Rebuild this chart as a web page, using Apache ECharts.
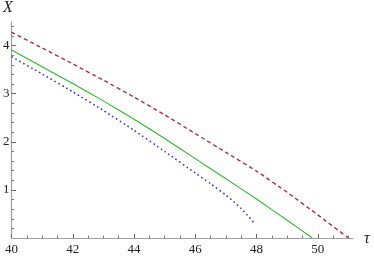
<!DOCTYPE html>
<html><head><meta charset="utf-8">
<script src="https://cdn.jsdelivr.net/npm/echarts@6/dist/echarts.min.js"></script>
<style>html,body{margin:0;padding:0;background:#fff}#c{width:374px;height:256px}</style>
</head><body><div id="c"></div>
<script>
// data
const redTau  = [40, 41, 42, 43, 44, 45, 46, 47, 48, 49, 50, 51];
const redX    = [4.28, 3.95, 3.62, 3.28, 2.93, 2.56, 2.17, 1.78, 1.39, 0.95, 0.48, 0.0];
const greenTau = [40, 41, 42, 43, 44, 45, 46, 47, 48, 49, 49.82];
const greenX   = [3.91, 3.56, 3.21, 2.85, 2.47, 2.07, 1.65, 1.23, 0.81, 0.37, 0.0];
const blueTau = [40, 41, 42, 43, 44, 45, 46, 46.5, 47, 47.25, 47.5, 47.75, 47.94];
const blueX   = [3.77, 3.41, 3.04, 2.65, 2.24, 1.80, 1.35, 1.13, 0.89, 0.76, 0.61, 0.44, 0.29];
const xMajor = [40, 42, 44, 46, 48, 50];
const xMinor = [40.5, 41, 41.5, 42.5, 43, 43.5, 44.5, 45, 45.5, 46.5, 47, 47.5, 48.5, 49, 49.5, 50.5, 51];
const yMajor = [1, 2, 3, 4];
const yMinor = [0.2, 0.4, 0.6, 0.8, 1.2, 1.4, 1.6, 1.8, 2.2, 2.4, 2.6, 2.8, 3.2, 3.4, 3.6, 3.8, 4.2, 4.4];

const zip = (a, b) => a.map((v, i) => [v, b[i]]);
const axisCol = '#a0a0a0';
const labelStyle = { color: '#222', fontFamily: 'Liberation Serif', fontSize: 13 };

const chart = echarts.init(document.getElementById('c'), null, { renderer: 'canvas' });
chart.setOption({
  animation: false,
  grid: { left: 9.5, right: 21, top: 22, bottom: 17, containLabel: false },
  xAxis: [
    { type: 'value', min: 40, max: 51.15, position: 'bottom',
      axisLine: { show: true, lineStyle: { color: axisCol, width: 1.2 } },
      axisTick: { show: true, inside: true, length: 4, customValues: xMajor, lineStyle: { color: '#666' } },
      axisLabel: { show: true, customValues: xMajor, margin: 5, ...labelStyle },
      splitLine: { show: false } },
    { type: 'value', min: 40, max: 51.15, position: 'bottom',
      axisLine: { show: false },
      axisTick: { show: true, inside: true, length: 2.5, customValues: xMinor, lineStyle: { color: '#777' } },
      axisLabel: { show: false }, splitLine: { show: false } }
  ],
  yAxis: [
    { type: 'value', min: 0, max: 4.49, position: 'left',
      axisLine: { show: true, lineStyle: { color: axisCol, width: 1.2 } },
      axisTick: { show: true, inside: true, length: 4.5, customValues: yMajor, lineStyle: { color: '#666' } },
      axisLabel: { show: true, customValues: yMajor, margin: 2, ...labelStyle },
      splitLine: { show: false } },
    { type: 'value', min: 0, max: 4.49, position: 'left',
      axisLine: { show: false },
      axisTick: { show: true, inside: true, length: 2.5, customValues: yMinor, lineStyle: { color: '#777' } },
      axisLabel: { show: false }, splitLine: { show: false } }
  ],
  graphic: [
    { type: 'text', left: 3, top: 0, style: { text: 'X', font: 'italic 16px "Liberation Serif"', fill: '#222' } },
    { type: 'text', left: 364, top: 231, style: { text: 'τ', font: 'italic 16px "Liberation Serif"', fill: '#222' } }
  ],
  series: [
    { type: 'line', data: zip(redTau, redX), showSymbol: false, smooth: 0.15,
      lineStyle: { color: '#a83240', width: 1.4, type: [4, 3] } },
    { type: 'line', data: zip(greenTau, greenX), showSymbol: false, smooth: 0.15,
      lineStyle: { color: '#2eb82e', width: 1.1, type: 'solid' } },
    { type: 'line', data: zip(blueTau, blueX), showSymbol: false, smooth: 0.15,
      lineStyle: { color: '#2a2ae0', width: 1.5, type: [1.5, 3] } }
  ]
});
</script></body></html>
